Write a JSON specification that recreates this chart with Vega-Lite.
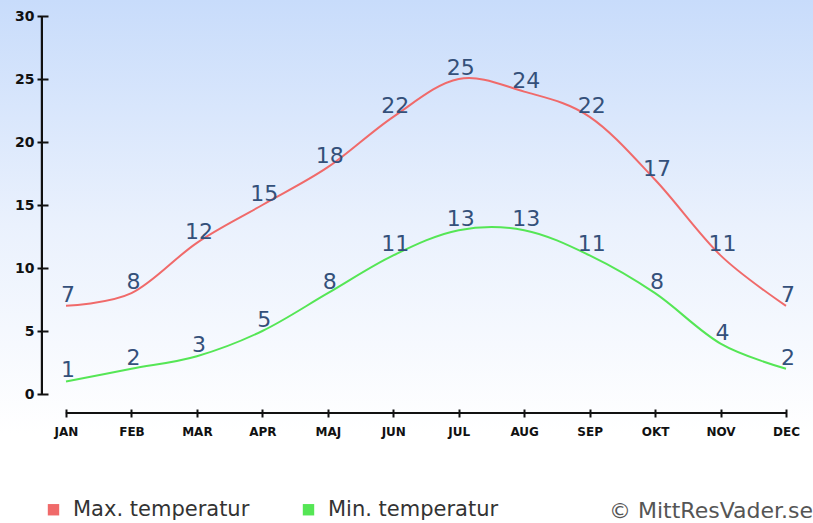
{
  "$schema": "https://vega.github.io/schema/vega-lite/v6.json",
  "width": 813,
  "height": 523,
  "padding": 0,
  "autosize": {"type": "none"},
  "background": "#ffffff",
  "config": {
    "view": {
      "stroke": null,
      "fill": {
        "gradient": "linear",
        "x1": 0, "y1": 0, "x2": 0, "y2": 1,
        "stops": [
          {"offset": 0, "color": "#c8dcfb"},
          {"offset": 0.43, "color": "#eaf1fd"},
          {"offset": 0.83, "color": "#ffffff"},
          {"offset": 1, "color": "#ffffff"}
        ]
      }
    }
  },
  "title": {
    "text": "© MittResVader.se",
    "orient": "bottom",
    "anchor": "end",
    "frame": "group",
    "font": "DejaVu Sans",
    "fontSize": 22,
    "fontWeight": "normal",
    "color": "#555555",
    "baseline": "alphabetic",
    "offset": -5
  },
  "data": {
    "values": [
      {"m": 0, "series": "Max. temperatur", "t": 7},
      {"m": 1, "series": "Max. temperatur", "t": 8},
      {"m": 2, "series": "Max. temperatur", "t": 12},
      {"m": 3, "series": "Max. temperatur", "t": 15},
      {"m": 4, "series": "Max. temperatur", "t": 18},
      {"m": 5, "series": "Max. temperatur", "t": 22},
      {"m": 6, "series": "Max. temperatur", "t": 25},
      {"m": 7, "series": "Max. temperatur", "t": 24},
      {"m": 8, "series": "Max. temperatur", "t": 22},
      {"m": 9, "series": "Max. temperatur", "t": 17},
      {"m": 10, "series": "Max. temperatur", "t": 11},
      {"m": 11, "series": "Max. temperatur", "t": 7},
      {"m": 0, "series": "Min. temperatur", "t": 1},
      {"m": 1, "series": "Min. temperatur", "t": 2},
      {"m": 2, "series": "Min. temperatur", "t": 3},
      {"m": 3, "series": "Min. temperatur", "t": 5},
      {"m": 4, "series": "Min. temperatur", "t": 8},
      {"m": 5, "series": "Min. temperatur", "t": 11},
      {"m": 6, "series": "Min. temperatur", "t": 13},
      {"m": 7, "series": "Min. temperatur", "t": 13},
      {"m": 8, "series": "Min. temperatur", "t": 11},
      {"m": 9, "series": "Min. temperatur", "t": 8},
      {"m": 10, "series": "Min. temperatur", "t": 4},
      {"m": 11, "series": "Min. temperatur", "t": 2}
    ]
  },
  "encoding": {
    "x": {
      "field": "m",
      "type": "quantitative",
      "scale": {"domain": [-1.0083, 11.4125], "nice": false, "zero": false},
      "axis": {
        "orient": "bottom",
        "offset": -114,
        "domain": false,
        "grid": false,
        "title": null,
        "values": [0, 1, 2, 3, 4, 5, 6, 7, 8, 9, 10, 11],
        "labelExpr": "['JAN','FEB','MAR','APR','MAJ','JUN','JUL','AUG','SEP','OKT','NOV','DEC'][datum.value]",
        "tickSize": 8,
        "tickWidth": 2,
        "tickColor": "#111111",
        "labelPadding": 9,
        "labelFont": "DejaVu Sans",
        "labelFontSize": 12,
        "labelFontWeight": "bold",
        "labelColor": "#111111",
        "labelFlush": false,
        "labelOverlap": false
      }
    },
    "y": {
      "field": "t",
      "type": "quantitative",
      "scale": {"domain": [-10.238, 31.27], "nice": false, "zero": false},
      "axis": {
        "orient": "left",
        "offset": -48,
        "domain": false,
        "grid": false,
        "title": null,
        "values": [0, 5, 10, 15, 20, 25, 30],
        "tickSize": 11,
        "tickWidth": 2,
        "tickColor": "#111111",
        "labelPadding": 3,
        "labelFont": "DejaVu Sans",
        "labelFontSize": 14,
        "labelFontWeight": "bold",
        "labelColor": "#111111",
        "labelFlush": false,
        "labelOverlap": false
      }
    }
  },
  "layer": [
    {
      "mark": {"type": "rule", "color": "#111111", "strokeWidth": 2},
      "encoding": {
        "x": {"datum": -0.3667, "type": "quantitative"},
        "y": {"datum": 0, "type": "quantitative"},
        "y2": {"datum": 30}
      }
    },
    {
      "mark": {"type": "rule", "color": "#111111", "strokeWidth": 2},
      "encoding": {
        "y": {"datum": -1.508, "type": "quantitative"},
        "x": {"datum": 0, "type": "quantitative"},
        "x2": {"datum": 11}
      }
    },
    {
      "mark": {"type": "line", "interpolate": "cardinal", "strokeWidth": 2},
      "encoding": {
        "color": {
          "field": "series",
          "type": "nominal",
          "scale": {"domain": ["Max. temperatur", "Min. temperatur"], "range": ["#f06a6a", "#55e655"]},
          "legend": {
            "title": null,
            "orient": "none",
            "legendX": 43,
            "legendY": 499,
            "direction": "horizontal",
            "symbolType": "square",
            "symbolSize": 130,
            "symbolStrokeWidth": 0,
            "labelFont": "DejaVu Sans",
            "labelFontSize": 21,
            "labelColor": "#333333",
            "labelLimit": 400,
            "columnPadding": 48,
            "symbolOffset": 0,
            "labelOffset": 9,
            "encode": {
              "symbols": {"update": {"fill": {"scale": "color", "field": "value"}, "fillOpacity": {"value": 1}}}
            }
          }
        }
      }
    },
    {
      "mark": {"type": "text", "font": "DejaVu Sans", "fontSize": 22, "color": "#34507a", "baseline": "alphabetic", "dx": 2, "dy": -4},
      "encoding": {
        "text": {"field": "t", "type": "quantitative"}
      }
    }
  ]
}
